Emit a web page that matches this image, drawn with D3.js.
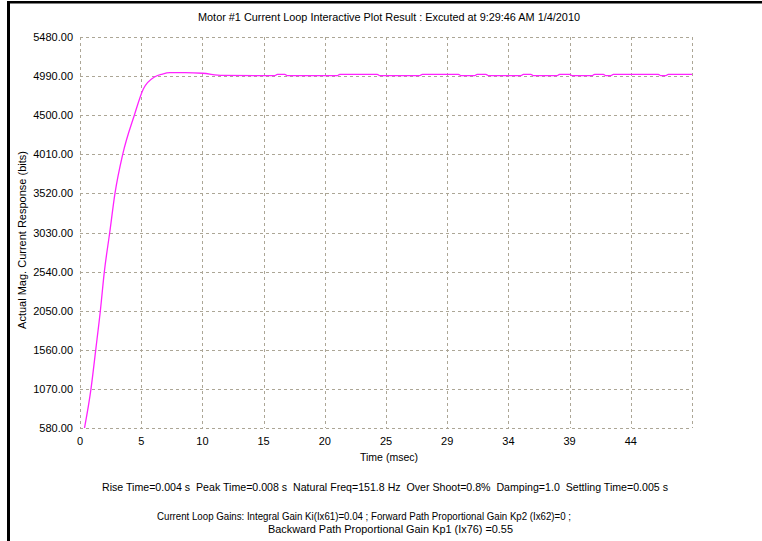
<!DOCTYPE html>
<html>
<head>
<meta charset="utf-8">
<script src="https://cdn.jsdelivr.net/npm/d3@7"></script>
<style>
  body { margin: 0; background: #fff; }
  svg { display: block; font-family: "Liberation Sans", Arial, sans-serif; }
  text { white-space: pre; }
</style>
</head>
<body>
<div id="chart"></div>
<script>
// step response (time in msec, response in bits)
var time_ms = [0.36, 0.88, 1.26, 1.63, 1.95, 2.38, 2.80, 3.42, 4.35, 5.07, 6.0, 6.6, 7.2, 8.4, 9.8,
  11.4, 15.6, 15.8, 16.4, 16.6, 20.6, 20.8, 23.8, 24.0, 27.2, 27.4, 30.3, 30.5, 31.6, 31.8,
  32.5, 32.7, 35.3, 35.5, 36.1, 36.3, 38.2, 38.4, 39.2, 39.4, 41.0, 41.2, 41.9, 42.1, 42.5,
  42.7, 46.3, 46.5, 46.9, 47.1, 49.0];
var response = [580, 1070, 1560, 2050, 2540, 3030, 3520, 4010, 4500, 4828, 4982, 5016, 5033, 5033, 5026,
  4998, 4995, 5012, 5012, 4995, 4995, 5012, 5012, 4995, 4995, 5012, 5012, 4995, 4995, 5012,
  5012, 4995, 4995, 5012, 5012, 4995, 4995, 5012, 5012, 4995, 4995, 5012, 5012, 4995, 4995,
  5012, 5012, 4995, 4995, 5012, 5012];

var y_ticks = [580, 1070, 1560, 2050, 2540, 3030, 3520, 4010, 4500, 4990, 5480];
var x_ticks = [0, 4.9, 9.8, 14.7, 19.6, 24.5, 29.4, 34.3, 39.2, 44.1, 49];

var title = "Motor #1 Current Loop Interactive Plot Result : Excuted at 9:29:46 AM 1/4/2010";
var x_title = "Time (msec)";
var y_title = "Actual Mag. Current Response (bits)";
var stats_text = "Rise Time=0.004 s  Peak Time=0.008 s  Natural Freq=151.8 Hz  Over Shoot=0.8%  Damping=1.0  Settling Time=0.005 s";
var gains_text = ["Current Loop Gains: Integral Gain Ki(Ix61)=0.04 ; Forward Path Proportional Gain Kp2 (Ix62)=0 ;",
                  "Backward Path Proportional Gain Kp1 (Ix76) =0.55"];

var width = 762, height = 541;
var margin = {left: 80, right: 70, top: 37, bottom: 113};

var svg = d3.select("#chart").append("svg")
  .attr("width", width)
  .attr("height", height);

// frame
svg.append("line").attr("x1", 8.5).attr("x2", 8.5).attr("y1", 1).attr("y2", height)
  .attr("stroke", "#000").attr("stroke-width", 3);
svg.append("line").attr("x1", 7).attr("x2", width).attr("y1", 2.2).attr("y2", 2.2)
  .attr("stroke", "#000").attr("stroke-width", 2.5);

var x = d3.scaleLinear()
  .domain([0, 49])
  .range([margin.left, width - margin.right]);

var y = d3.scaleLinear()
  .domain([580, 5480])
  .range([height - margin.bottom, margin.top]);

var gridColor = "#aca696";

// grid
svg.append("g").selectAll("line")
  .data(x_ticks)
  .enter().append("line")
  .attr("x1", function(d) { return Math.round(x(d)) + 0.5; })
  .attr("x2", function(d) { return Math.round(x(d)) + 0.5; })
  .attr("y1", y(5480))
  .attr("y2", y(580))
  .attr("stroke", gridColor)
  .attr("stroke-dasharray", "3,3");

svg.append("g").selectAll("line")
  .data(y_ticks)
  .enter().append("line")
  .attr("x1", x(0))
  .attr("x2", x(49))
  .attr("y1", function(d) { return Math.round(y(d)) + 0.5; })
  .attr("y2", function(d) { return Math.round(y(d)) + 0.5; })
  .attr("stroke", gridColor)
  .attr("stroke-dasharray", "3,3");

// tick labels
svg.append("g").selectAll("text")
  .data(y_ticks)
  .enter().append("text")
  .attr("x", x(0) - 7)
  .attr("y", function(d) { return y(d) + 4; })
  .attr("text-anchor", "end")
  .attr("font-size", 11)
  .attr("fill", "#000")
  .text(function(d) { return d3.format(".2f")(d); });

svg.append("g").selectAll("text")
  .data(x_ticks.slice(0, -1))
  .enter().append("text")
  .attr("x", function(d) { return x(d); })
  .attr("y", y(580) + 17)
  .attr("text-anchor", "middle")
  .attr("font-size", 11)
  .attr("fill", "#000")
  .text(function(d) { return Math.round(d); });

// response line
var pts = time_ms.map(function(t, i) { return [t, response[i]]; });
var line = d3.line()
  .curve(d3.curveMonotoneX)
  .x(function(d) { return x(d[0]); })
  .y(function(d) { return y(d[1]); });

svg.append("path")
  .datum(pts)
  .attr("d", line)
  .attr("fill", "none")
  .attr("stroke", "#ff22ff")
  .attr("stroke-width", 1.3);

// texts
function label(str, cx, by, len) {
  var t = svg.append("text")
    .attr("x", cx).attr("y", by)
    .attr("text-anchor", "middle")
    .attr("font-size", 11)
    .attr("xml:space", "preserve")
    .text(str);
  if (len) t.attr("textLength", len).attr("lengthAdjust", "spacingAndGlyphs");
  return t;
}

label(title, 389, 21, 382);
label(x_title, 389, 461, 58);
label(stats_text, 385, 491, 566);
label(gains_text[0], 364, 520, 414);
label(gains_text[1], 390.5, 533, 245);

svg.append("text")
  .attr("transform", "translate(26,240) rotate(-90)")
  .attr("text-anchor", "middle")
  .attr("font-size", 11)
  .text(y_title);
</script>
</body>
</html>
